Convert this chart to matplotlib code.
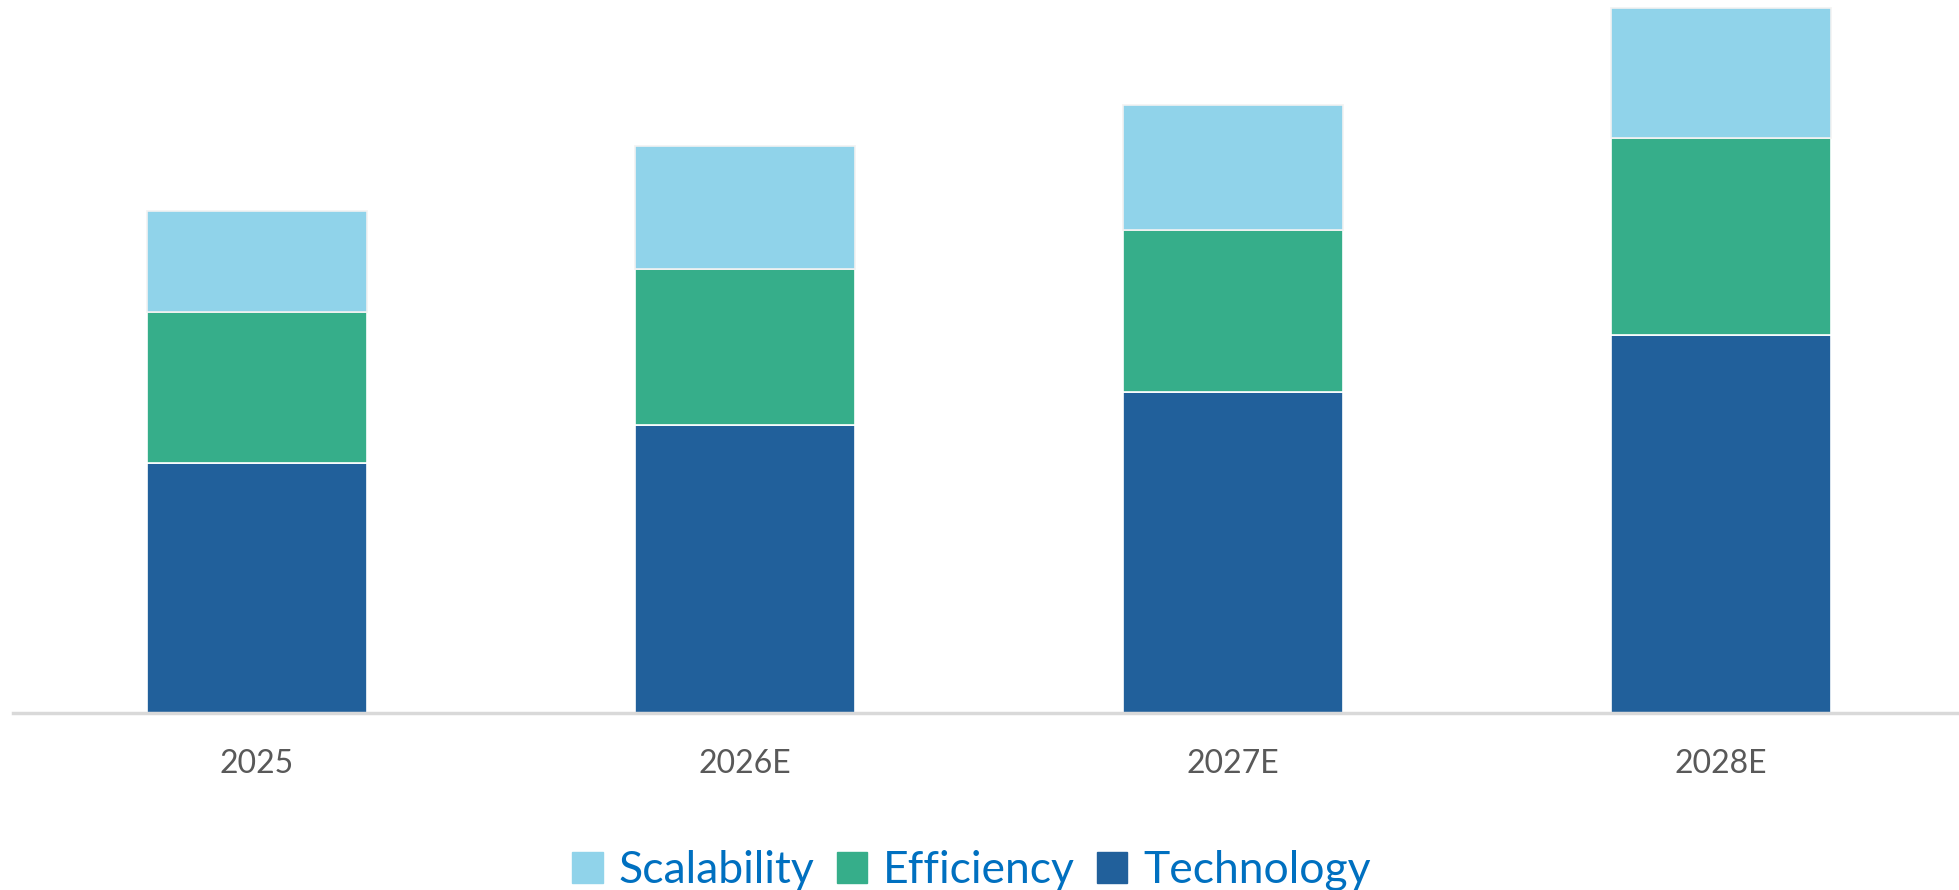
import numpy as np
import matplotlib.pyplot as plt
from matplotlib.patches import Patch

years = ['2025', '2026E', '2027E', '2028E']
technology = [250, 288, 321, 378]
efficiency = [151, 156, 162, 197]
scalability = [101, 123, 125, 130]

c_tech = '#21609B'
c_eff = '#36AE8A'
c_scal = '#90D3EA'

plt.rcParams['font.family'] = ['Lato', 'DejaVu Sans']

fig = plt.figure(figsize=(19.59, 8.90), dpi=100)
ax = fig.add_axes([13 / 1959, 1 - 713 / 890, 1952 / 1959, 713 / 890])

x = np.arange(len(years))
w = 0.45
tech = np.array(technology)
eff = np.array(efficiency)
scal = np.array(scalability)
ax.bar(x, tech, w, color=c_tech, edgecolor='white', linewidth=1.2)
ax.bar(x, eff, w, bottom=tech, color=c_eff, edgecolor='white', linewidth=1.2)
ax.bar(x, scal, w, bottom=tech + eff, color=c_scal, edgecolor='#F2F2F2', linewidth=1.2)

ax.set_xlim(-0.5, 3.5)
ax.set_ylim(0, 713)
ax.set_xticks(x)
ax.set_xticklabels(years, fontsize=23, color='#595959')
ax.tick_params(axis='x', length=0, pad=26)
ax.set_yticks([])
for s in ['top', 'right', 'left']:
    ax.spines[s].set_visible(False)
ax.spines['bottom'].set_color('#D9D9D9')
ax.spines['bottom'].set_linewidth(2.5)

handles = [Patch(color=c_scal), Patch(color=c_eff), Patch(color=c_tech)]
leg = fig.legend(handles, ['Scalability', 'Efficiency', 'Technology'],
                 loc='center', bbox_to_anchor=(0.496, 0.022), ncol=3,
                 frameon=False, fontsize=32, handlelength=0.68, handleheight=0.68,
                 handletextpad=0.36, columnspacing=0.5)
for t in leg.get_texts():
    t.set_color('#0070C0')

fig.savefig('out.png', dpi=100)
